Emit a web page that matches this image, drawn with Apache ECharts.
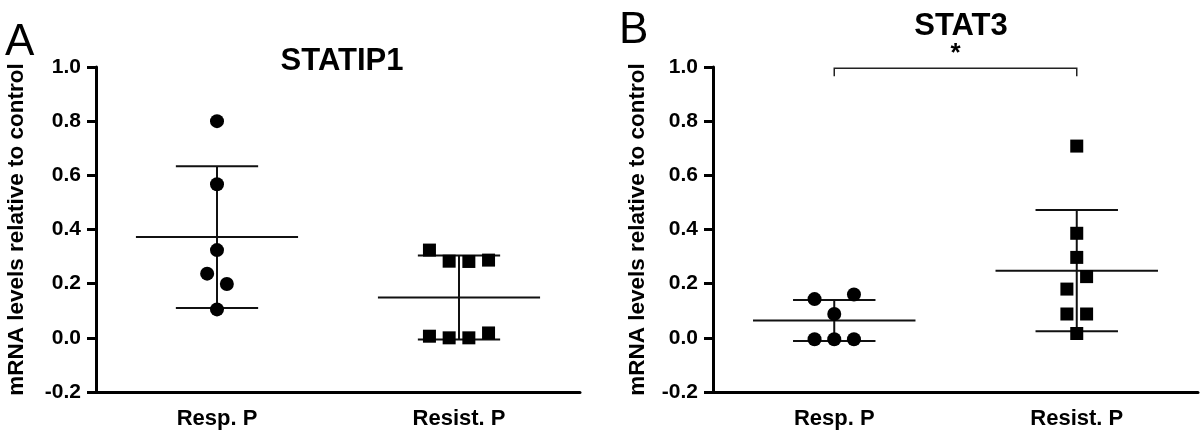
<!DOCTYPE html>
<html>
<head>
<meta charset="utf-8">
<script src="https://cdn.jsdelivr.net/npm/echarts@6/dist/echarts.min.js"></script>
<style>
  html, body { margin: 0; padding: 0; background: #ffffff; }
  #chart { width: 1200px; height: 438px; }
</style>
</head>
<body>
<div id="chart"></div>
<script>
// ---------- data ----------
const categories = ['Resp. P', 'Resist. P'];
const panelTitles = ['STATIP1', 'STAT3'];
const panelLetters = ['A', 'B'];
const yTickValues = [-0.2, 0.0, 0.2, 0.4, 0.6, 0.8, 1.0];
const yAxisName = 'mRNA levels relative to control';

// individual values (listed row by row, left to right within a row)
const statip1Resp = [0.80, 0.567, 0.324, 0.237, 0.199, 0.105];
const statip1Resist = [0.324, 0.283, 0.282, 0.287, 0.006, 0.0, 0.0, 0.018];
const stat3Resp = [0.143, 0.088, 0.160, -0.005, -0.005, -0.005];
const stat3Resist = [0.708, 0.386, 0.297, 0.180, 0.226, 0.088, 0.088, 0.016];

// mean and SD per group (Resp. P, Resist. P)
const statip1Mean = [0.372, 0.149];
const statip1SD = [0.262, 0.155];
const stat3Mean = [0.064, 0.248];
const stat3SD = [0.076, 0.224];

// significance bracket in panel B: [from category, to category, y level]
const stat3SigBracket = [0, 1, 0.995];
const stat3SigLabel = '*';

// ---------- styling ----------
const FONT = "'Liberation Sans', Arial, Helvetica, sans-serif";
const DOT_SPACING = 19.7;      // px between side-by-side dots
const ROW_THRESHOLD = 0.06;    // values closer than this share a row
const MEAN_HALF = 0.335;       // fraction of band width
const CAP_HALF = 0.17;

// group near-equal values into rows and spread them horizontally (scatter-dot layout)
function dodgeSlots(values) {
  const order = values.map((v, i) => i).sort((a, b) => values[b] - values[a] || a - b);
  const groups = [];
  let cur = [];
  order.forEach((idx, k) => {
    if (k > 0 && values[order[k - 1]] - values[idx] >= ROW_THRESHOLD) {
      groups.push(cur); cur = [];
    }
    cur.push(idx);
  });
  if (cur.length) groups.push(cur);
  const slots = new Array(values.length).fill(0);
  groups.forEach(g => {
    g.sort((a, b) => a - b);
    g.forEach((idx, j) => { slots[idx] = j - (g.length - 1) / 2; });
  });
  return slots;
}

function scatterSeries(values, catIndex, symbol, size, gridIdx) {
  const slots = dodgeSlots(values);
  return {
    type: 'scatter',
    xAxisIndex: gridIdx, yAxisIndex: gridIdx,
    symbol: symbol,
    symbolSize: size,
    itemStyle: { color: '#000000', opacity: 1 },
    z: 5,
    silent: true,
    data: values.map((v, i) => ({ value: [catIndex, v], symbolOffset: [slots[i] * DOT_SPACING, 0] }))
  };
}

function meanSdSeries(means, sds, gridIdx) {
  return {
    type: 'custom',
    xAxisIndex: gridIdx, yAxisIndex: gridIdx,
    z: 3,
    silent: true,
    encode: { x: 0, y: 1 },
    data: means.map((m, i) => [i, m, sds[i]]),
    renderItem: function (params, api) {
      const c = api.value(0), m = api.value(1), s = api.value(2);
      const pm = api.coord([c, m]);
      const pu = api.coord([c, m + s]);
      const pl = api.coord([c, m - s]);
      const bw = api.size([1, 0])[0];
      const st = { stroke: '#111111', lineWidth: 2, fill: null };
      const seg = (x1, y1, x2, y2) => ({ type: 'line', shape: { x1, y1, x2, y2 }, style: st });
      return {
        type: 'group',
        children: [
          seg(pm[0] - bw * MEAN_HALF, pm[1], pm[0] + bw * MEAN_HALF, pm[1]),
          seg(pu[0], pu[1], pl[0], pl[1]),
          seg(pu[0] - bw * CAP_HALF, pu[1], pu[0] + bw * CAP_HALF, pu[1]),
          seg(pl[0] - bw * CAP_HALF, pl[1], pl[0] + bw * CAP_HALF, pl[1])
        ]
      };
    }
  };
}

function bracketSeries(bracket, label, gridIdx) {
  return {
    type: 'custom',
    xAxisIndex: gridIdx, yAxisIndex: gridIdx,
    z: 4,
    silent: true,
    encode: { x: 0, y: 2 },
    data: [bracket],
    renderItem: function (params, api) {
      const p0 = api.coord([api.value(0), api.value(2)]);
      const p1 = api.coord([api.value(1), api.value(2)]);
      const drop = 8;
      return {
        type: 'group',
        children: [
          { type: 'polyline',
            shape: { points: [[p0[0], p0[1] + drop], [p0[0], p0[1]], [p1[0], p1[1]], [p1[0], p1[1] + drop]] },
            style: { stroke: '#222222', lineWidth: 1.5, fill: null } },
          { type: 'text',
            style: { text: label, x: (p0[0] + p1[0]) / 2, y: p0[1] - 15,
                     align: 'center', verticalAlign: 'middle',
                     font: 'bold 26px ' + FONT, fill: '#000000' } }
        ]
      };
    }
  };
}

function yAxisDef(gridIdx, nameGap) {
  return {
    type: 'value', gridIndex: gridIdx,
    min: yTickValues[0], max: yTickValues[yTickValues.length - 1],
    interval: yTickValues[1] - yTickValues[0],
    name: yAxisName, nameLocation: 'middle', nameGap: nameGap, nameRotate: 90,
    nameTextStyle: { fontFamily: FONT, fontWeight: 'bold', fontSize: 22.5, color: '#000000' },
    axisLine: { show: true, onZero: false, lineStyle: { color: '#000000', width: 3 } },
    axisTick: { show: true, length: 9, lineStyle: { color: '#000000', width: 3 } },
    splitLine: { show: false },
    axisLabel: {
      fontFamily: FONT, fontWeight: 'bold', fontSize: 21, color: '#000000', margin: 15,
      formatter: v => v.toFixed(1)
    }
  };
}

function xAxisDef(gridIdx) {
  return {
    type: 'category', gridIndex: gridIdx, data: categories, boundaryGap: true,
    axisLine: { show: true, onZero: false, lineStyle: { color: '#000000', width: 3 } },
    axisTick: { show: false },
    splitLine: { show: false },
    axisLabel: { fontFamily: FONT, fontWeight: 'bold', fontSize: 22, color: '#000000', margin: 16, interval: 0 }
  };
}

const chart = echarts.init(document.getElementById('chart'), null, { renderer: 'canvas' });
chart.setOption({
  backgroundColor: '#ffffff',
  animation: false,
  title: [
    { text: panelLetters[0], left: 0, top: 16, textStyle: { fontFamily: FONT, fontWeight: 'normal', fontSize: 44, color: '#000' } },
    { text: panelLetters[1], left: 614, top: 4, textStyle: { fontFamily: FONT, fontWeight: 'normal', fontSize: 44, color: '#000' } },
    { text: panelTitles[0], left: 337, top: 41, textAlign: 'center', textStyle: { fontFamily: FONT, fontWeight: 'bold', fontSize: 31, color: '#000' } },
    { text: panelTitles[1], left: 956, top: 6, textAlign: 'center', textStyle: { fontFamily: FONT, fontWeight: 'bold', fontSize: 31, color: '#000' } }
  ],
  grid: [
    { left: 96, right: 620, top: 67, bottom: 46, containLabel: false },
    { left: 713, right: 2, top: 67, bottom: 46, containLabel: false }
  ],
  xAxis: [xAxisDef(0), xAxisDef(1)],
  yAxis: [yAxisDef(0, 68), yAxisDef(1, 64)],
  series: [
    meanSdSeries(statip1Mean, statip1SD, 0),
    scatterSeries(statip1Resp, 0, 'circle', 14, 0),
    scatterSeries(statip1Resist, 1, 'rect', 13, 0),
    meanSdSeries(stat3Mean, stat3SD, 1),
    scatterSeries(stat3Resp, 0, 'circle', 14, 1),
    scatterSeries(stat3Resist, 1, 'rect', 13, 1),
    bracketSeries(stat3SigBracket, stat3SigLabel, 1)
  ]
});
</script>
</body>
</html>
